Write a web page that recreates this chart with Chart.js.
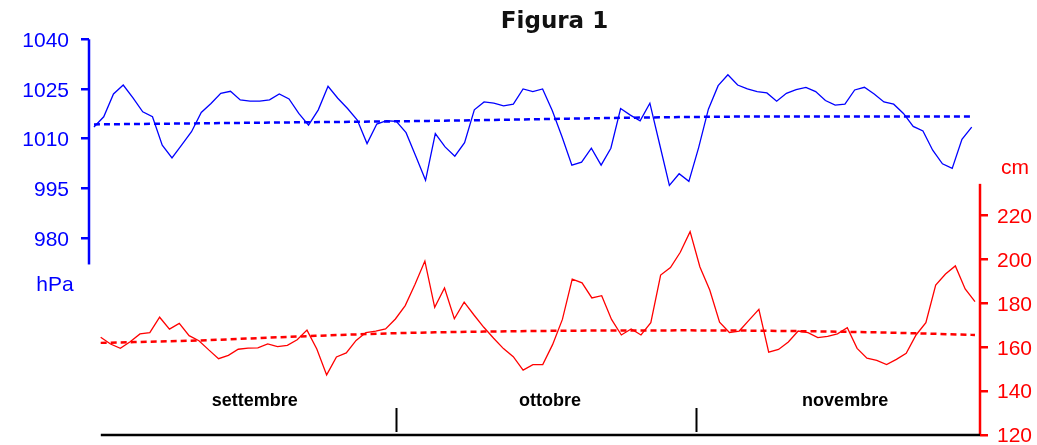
<!DOCTYPE html>
<html lang="it">
<head>
<meta charset="utf-8">
<title>Figura 1</title>
<script src="https://cdn.jsdelivr.net/npm/chart.js@4.4.1/dist/chart.umd.min.js"></script>
<style>
  html, body { margin: 0; padding: 0; background: #ffffff; }
  canvas { display: block; }
</style>
</head>
<body>
<canvas id="chart" width="1037" height="445"></canvas>
<script>
// Daily mean atmospheric pressure (hPa), 1 September - 30 November
const pressure = [
  1013.5, 1016.6, 1023.5, 1026.2, 1022.3, 1018.1, 1016.6, 1008.0, 1004.2, 1008.1,
  1012.1, 1017.9, 1020.6, 1023.7, 1024.3, 1021.7, 1021.3, 1021.3, 1021.7, 1023.5,
  1022.0, 1017.6, 1014.1, 1018.7, 1025.8, 1022.2, 1019.1, 1015.6, 1008.5, 1014.4,
  1015.4, 1015.2, 1011.8, 1004.7, 997.4, 1011.5, 1007.5, 1004.7, 1008.8, 1018.7,
  1021.1, 1020.7, 1019.9, 1020.4, 1025.0, 1024.2, 1025.0, 1018.4, 1010.5, 1002.0,
  1002.9, 1007.1, 1002.0, 1007.1, 1019.1, 1017.1, 1015.4, 1020.7, 1008.3, 995.9,
  999.4, 997.1, 1007.3, 1018.9, 1026.0, 1029.3, 1026.2, 1025.0, 1024.2, 1023.8,
  1021.3, 1023.7, 1024.8, 1025.5, 1024.2, 1021.5, 1020.1, 1020.4, 1024.7, 1025.5,
  1023.5, 1021.1, 1020.4, 1017.6, 1013.7, 1012.3, 1006.5, 1002.4, 1001.0, 1009.8,
  1013.5
];

// Daily maximum sea level (cm)
const seaLevel = [
  164.6, 161.5, 159.5, 162.5, 166.1, 166.7, 173.7, 168.3, 170.9, 165.3,
  163.0, 158.8, 154.8, 156.3, 159.1, 159.6, 159.7, 161.5, 160.3, 160.9,
  163.4, 167.8, 159.2, 147.4, 155.6, 157.4, 163.1, 166.7, 167.4, 168.4,
  172.9, 179.0, 188.7, 199.3, 178.2, 187.0, 173.0, 180.6, 174.7, 169.1,
  164.1, 159.4, 155.7, 149.6, 152.1, 152.1, 161.2, 172.7, 191.1, 189.4,
  182.5, 183.5, 172.7, 165.6, 168.3, 165.6, 171.2, 192.9, 196.3, 203.3,
  212.7, 196.6, 186.1, 171.4, 166.7, 167.4, 172.4, 177.3, 157.8, 159.0,
  162.4, 167.4, 166.7, 164.4, 165.0, 166.1, 168.9, 159.5, 155.0, 154.0,
  152.1, 154.5, 157.2, 165.6, 171.2, 188.4, 193.4, 197.1, 186.6, 180.8
];

// Trend curves (day index -> value)
const pressureTrendDay = [0, 10, 20, 30, 40, 50, 60, 70, 80, 90];
const pressureTrend    = [1014.3, 1014.6, 1014.9, 1015.2, 1015.6, 1016.1, 1016.5, 1016.7, 1016.7, 1016.7];
const seaLevelTrendDay = [0, 10, 20, 30, 40, 50, 60, 70, 80, 89];
const seaLevelTrend    = [162.0, 163.1, 164.9, 166.4, 167.2, 167.6, 167.7, 167.4, 166.7, 165.6];

// Axis ticks
const pressureTicks = [980, 995, 1010, 1025, 1040];
const seaLevelTicks = [120, 140, 160, 180, 200, 220];

// Months along the time axis (first day index and length)
const monthNames  = ['settembre', 'ottobre', 'novembre'];
const monthStarts = [0, 30, 61];
const monthLength = [30, 31, 30];

const chartTitle = 'Figura 1';

const BLUE = '#0000ff';
const RED = '#ff0000';

const toPoints = (xs, ys) => xs.map((x, i) => ({ x: x, y: ys[i] }));

// Title, axis lines, unit labels and the month strip along the bottom
const frame = {
  id: 'frame',
  afterDraw(chart) {
    const { ctx, chartArea: a, scales } = chart;
    const yP = scales.yP, yL = scales.yL, xM = scales.xM;
    ctx.save();

    ctx.fillStyle = '#111111';
    ctx.font = 'bold 23px "DejaVu Sans", sans-serif';
    ctx.textAlign = 'center';
    ctx.textBaseline = 'middle';
    ctx.fillText(chartTitle, chart.width / 2 + 36, 22);

    const pTop = yP.getPixelForValue(1040);
    const pBottom = yP.getPixelForValue(972);
    ctx.strokeStyle = BLUE;
    ctx.lineWidth = 2.5;
    ctx.beginPath();
    ctx.moveTo(a.left, pTop);
    ctx.lineTo(a.left, pBottom);
    ctx.stroke();

    const lTop = yL.getPixelForValue(234.5);
    const lBottom = yL.getPixelForValue(120);
    ctx.strokeStyle = RED;
    ctx.beginPath();
    ctx.moveTo(a.right, lTop);
    ctx.lineTo(a.right, lBottom + 1);
    ctx.stroke();

    ctx.font = '21px "Liberation Sans", Arial, sans-serif';
    ctx.fillStyle = BLUE;
    ctx.fillText('hPa', a.left - 34, pBottom + 21);
    ctx.fillStyle = RED;
    ctx.fillText('cm', a.right + 35, lTop - 16);

    // month strip
    ctx.strokeStyle = '#000000';
    ctx.lineWidth = 2.5;
    ctx.beginPath();
    ctx.moveTo(xM.getPixelForValue(monthStarts[0] - 1), a.bottom);
    ctx.lineTo(a.right, a.bottom);
    ctx.stroke();

    ctx.lineWidth = 2;
    for (let i = 1; i < monthStarts.length; i++) {
      const x = Math.round(xM.getPixelForValue(monthStarts[i] - 0.5)) + 0.5;
      ctx.beginPath();
      ctx.moveTo(x, a.bottom - 27);
      ctx.lineTo(x, a.bottom - 3);
      ctx.stroke();
    }

    ctx.fillStyle = '#000000';
    ctx.font = 'bold 18px "Liberation Sans", Arial, sans-serif';
    monthNames.forEach((name, i) => {
      const mid = monthStarts[i] - 0.5 + monthLength[i] / 2;
      ctx.fillText(name, xM.getPixelForValue(mid) + 4, a.bottom - 34);
    });

    ctx.restore();
  }
};

const fixedTicks = (values) => (scale) => {
  scale.ticks = values.map(v => ({ value: v }));
};
const plainLabel = (v) => String(v);

new Chart(document.getElementById('chart'), {
  type: 'line',
  data: {
    datasets: [
      {
        label: 'tendenza pressione',
        data: toPoints(pressureTrendDay, pressureTrend),
        xAxisID: 'xP', yAxisID: 'yP',
        borderColor: BLUE, borderWidth: 2.5, borderDash: [6, 4],
        pointRadius: 0, tension: 0.4, cubicInterpolationMode: 'monotone'
      },
      {
        label: 'tendenza livello',
        data: toPoints(seaLevelTrendDay, seaLevelTrend),
        xAxisID: 'xL', yAxisID: 'yL',
        borderColor: RED, borderWidth: 2.5, borderDash: [6, 4],
        pointRadius: 0, tension: 0.4, cubicInterpolationMode: 'monotone'
      },
      {
        label: 'Pressione (hPa)',
        data: pressure.map((v, i) => ({ x: i, y: v })),
        xAxisID: 'xP', yAxisID: 'yP',
        borderColor: BLUE, borderWidth: 1.3,
        pointRadius: 0, tension: 0
      },
      {
        label: 'Livello marea (cm)',
        data: seaLevel.map((v, i) => ({ x: i, y: v })),
        xAxisID: 'xL', yAxisID: 'yL',
        borderColor: RED, borderWidth: 1.3,
        pointRadius: 0, tension: 0
      }
    ]
  },
  options: {
    responsive: false,
    devicePixelRatio: 1,
    animation: false,
    events: [],
    layout: { padding: { left: 0, right: 0, top: 39.3, bottom: 10 } },
    plugins: {
      legend: { display: false },
      tooltip: { enabled: false },
      title: { display: false }
    },
    scales: {
      xP: { type: 'linear', display: false, min: -0.51, max: 90.85 },
      xL: { type: 'linear', display: false, min: -1.19, max: 89.51 },
      xM: { type: 'linear', display: false, min: -2.22, max: 89.85 },
      yP: {
        type: 'linear', position: 'left',
        min: 920.5, max: 1040,
        afterBuildTicks: fixedTicks(pressureTicks),
        afterFit(scale) { scale.width = 89; scale.paddingTop = 0; scale.paddingBottom = 0; },
        border: { display: false },
        grid: { drawOnChartArea: false, color: BLUE, lineWidth: 2.5, tickLength: 8 },
        ticks: {
          color: BLUE, padding: 12, labelOffset: 2, callback: plainLabel,
          font: { family: '"Liberation Sans", Arial, sans-serif', size: 21 }
        }
      },
      yL: {
        type: 'linear', position: 'right',
        min: 120, max: 300.4,
        afterBuildTicks: fixedTicks(seaLevelTicks),
        afterFit(scale) { scale.width = 57; scale.paddingTop = 0; scale.paddingBottom = 0; },
        border: { display: false },
        grid: { drawOnChartArea: false, color: RED, lineWidth: 2.5, tickLength: 8 },
        ticks: {
          color: RED, padding: 9, labelOffset: 1.5, callback: plainLabel,
          font: { family: '"Liberation Sans", Arial, sans-serif', size: 21 }
        }
      }
    }
  },
  plugins: [frame]
});
</script>
</body>
</html>
